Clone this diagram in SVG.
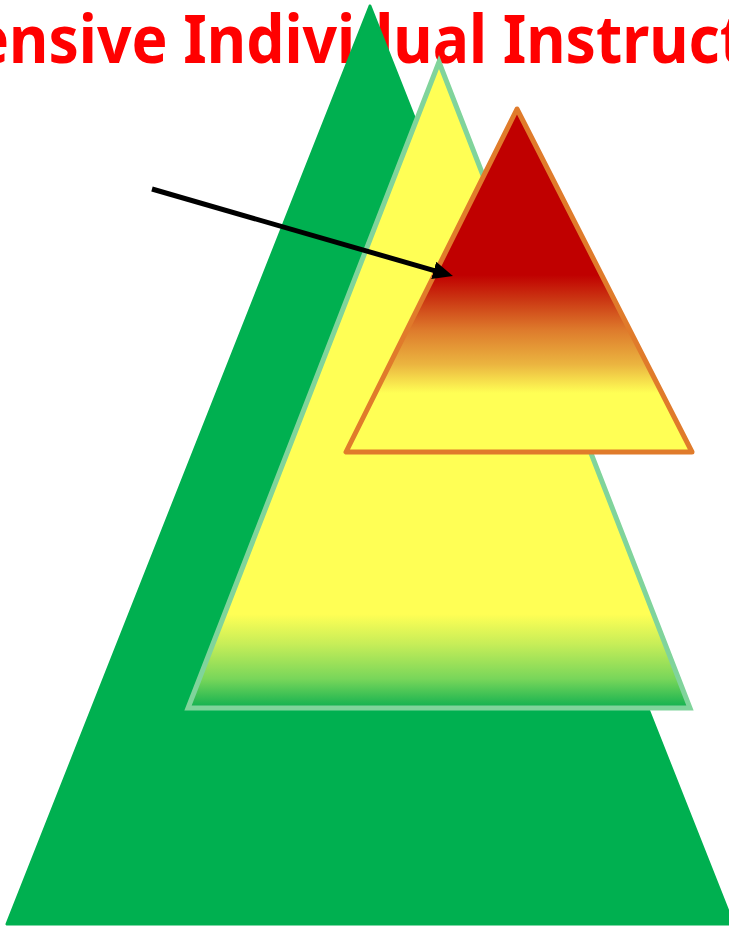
<svg xmlns="http://www.w3.org/2000/svg" width="729" height="927" viewBox="0 0 729 927">
  <style>
    .title { font-family: "Noto Sans", "Liberation Sans", sans-serif; font-weight: 700; font-size: 67px; fill: #FF0000; }
    .connector { stroke: #000000; stroke-width: 5; fill: none; }
  </style>
  <defs>
    <linearGradient id="gYellow" x1="0" y1="0" x2="0" y2="1">
      <stop offset="0" stop-color="#FFFF55"/>
      <stop offset="0.855" stop-color="#FFFF55"/>
      <stop offset="0.9" stop-color="#C8EE58"/>
      <stop offset="0.955" stop-color="#78D65A"/>
      <stop offset="1" stop-color="#10B050"/>
    </linearGradient>
    <linearGradient id="gRed" x1="0" y1="0" x2="0" y2="1">
      <stop offset="0" stop-color="#C00000"/>
      <stop offset="0.484" stop-color="#C00000"/>
      <stop offset="0.56" stop-color="#CC3A14"/>
      <stop offset="0.645" stop-color="#DE7B2C"/>
      <stop offset="0.745" stop-color="#EBB540"/>
      <stop offset="0.828" stop-color="#FFFF55"/>
      <stop offset="1" stop-color="#FFFF55"/>
    </linearGradient>
    <marker id="arrowHead" markerUnits="userSpaceOnUse" markerWidth="20" markerHeight="18" refX="6" refY="9" orient="auto" viewBox="0 0 20 18">
      <path d="M0,0 L20,9 L0,18 Z" fill="#000000"/>
    </marker>
  </defs>

  <g id="title">
    <text class="title" x="-27" y="62.5" textLength="773" lengthAdjust="spacingAndGlyphs">ensive Individual Instruct</text>
  </g>

  <g id="node-green">
    <polygon points="370,6 7,924 733,924" fill="#00B050" stroke="#00B050" stroke-width="3" stroke-linejoin="round"/>
  </g>

  <g id="node-yellow">
    <polygon points="439,62 188,708 690,708" fill="url(#gYellow)" stroke="#80D49B" stroke-width="5" stroke-linejoin="miter"/>
  </g>

  <g id="node-red">
    <polygon points="517,109 346,452 692,452" fill="url(#gRed)" stroke="#E07B2B" stroke-width="5" stroke-linejoin="round"/>
  </g>

  <g id="connectors">
    <line class="connector" x1="152" y1="189" x2="439.5" y2="272.1" marker-end="url(#arrowHead)"/>
  </g>
</svg>
